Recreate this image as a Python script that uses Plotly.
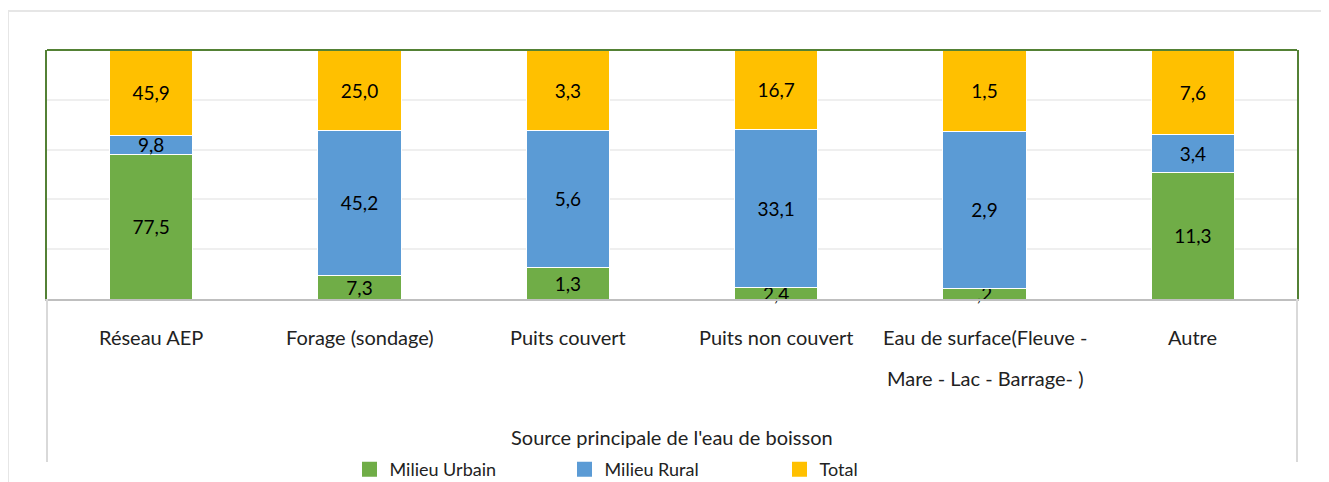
import plotly.graph_objects as go

categories = ["Réseau AEP", "Forage (sondage)", "Puits couvert", "Puits non couvert",
              "Eau de surface(Fleuve -\nMare - Lac - Barrage- )", "Autre"]
urbain = [77.5, 7.3, 1.3, 2.4, 0.2, 11.3]
rural = [9.8, 45.2, 5.6, 33.1, 2.9, 3.4]
total = [45.9, 25.0, 3.3, 16.7, 1.5, 7.6]

series = [
    ("Milieu Urbain", urbain, "#70AD47"),
    ("Milieu Rural", rural, "#5B9BD5"),
    ("Total", total, "#FFC000"),
]


def fmt(v):
    s = f"{v:.1f}".replace(".", ",")
    return s[1:] if s.startswith("0") else s


keys = [c.replace("\n", " ") for c in categories]
LABEL_FONT = "Lato"

fig = go.Figure()
for name, vals, color in series:
    fig.add_trace(go.Bar(
        x=keys, y=vals, name=name, showlegend=False,
        marker=dict(color=color, line=dict(color="white", width=1)),
        text=[fmt(v) for v in vals], textposition="inside",
        insidetextanchor="middle", textangle=0, cliponaxis=False,
        textfont=dict(family=LABEL_FONT, size=19, color="black"),
        hoverinfo="skip",
    ))
# legend entries with bigger square swatches
for name, vals, color in series:
    fig.add_trace(go.Scatter(
        x=[keys[0]], y=[None], name=name, mode="markers",
        marker=dict(symbol="square", size=15, color=color),
        hoverinfo="skip",
    ))

# category labels (two-line one needs wide line spacing)
line_y = [-0.153, -0.317]
for key, cat in zip(keys, categories):
    for i, line in enumerate(cat.split("\n")):
        fig.add_annotation(x=key, y=line_y[i], xref="x", yref="paper", text=line,
                           showarrow=False, yanchor="middle",
                           font=dict(family=LABEL_FONT, size=20, color="#222"))

fig.add_annotation(x=0.5, y=-0.554, xref="paper", yref="paper",
                   text="Source principale de l'eau de boisson", showarrow=False,
                   yanchor="middle", font=dict(family=LABEL_FONT, size=20, color="#222"))

shapes = [
    # outer chart frame
    dict(type="line", xref="paper", yref="paper", x0=-0.0312, x1=1.05, y0=1.1566, y1=1.1566,
         line=dict(color="#e6e6e6", width=2)),
    dict(type="line", xref="paper", yref="paper", x0=-0.0312, x1=-0.0312, y0=1.1566, y1=-0.75,
         line=dict(color="#e6e6e6", width=2)),
    # axis table sides
    dict(type="line", xref="paper", yref="paper", x0=0, x1=0, y0=0, y1=-0.655,
         line=dict(color="#d9d9d9", width=2)),
    dict(type="line", xref="paper", yref="paper", x0=1, x1=1, y0=0, y1=-0.655,
         line=dict(color="#d9d9d9", width=2)),
    # green top border
    dict(type="line", xref="paper", yref="paper", x0=0, x1=1, y0=1, y1=1,
         line=dict(color="#538135", width=2)),
]

# page body adds an 8px offset, so the figure is sized 8px smaller
fig.update_layout(
    barmode="stack", barnorm="percent", bargap=0.6,
    width=1321, height=474,
    margin=dict(l=39, r=32, t=42, b=183, autoexpand=False),
    paper_bgcolor="white", plot_bgcolor="white",
    font=dict(family=LABEL_FONT, color="#222"),
    uniformtext=dict(minsize=19, mode="show"),
    showlegend=True,
    legend=dict(orientation="h", x=0.5, xanchor="center", y=-0.685, yanchor="middle",
                entrywidth=170, entrywidthmode="pixels", traceorder="normal",
                itemsizing="trace", tracegroupgap=0,
                font=dict(family=LABEL_FONT, size=18, color="#222")),
    shapes=shapes,
)
fig.update_xaxes(showticklabels=False, showgrid=False, showline=True,
                 linecolor="#bfbfbf", linewidth=2, ticks="")
fig.update_yaxes(range=[0, 100], dtick=20, showticklabels=False, showgrid=True,
                 gridcolor="#efefef", gridwidth=2, zeroline=False,
                 showline=True, linecolor="#538135", linewidth=2, mirror=True)

fig.write_html("out.html")
